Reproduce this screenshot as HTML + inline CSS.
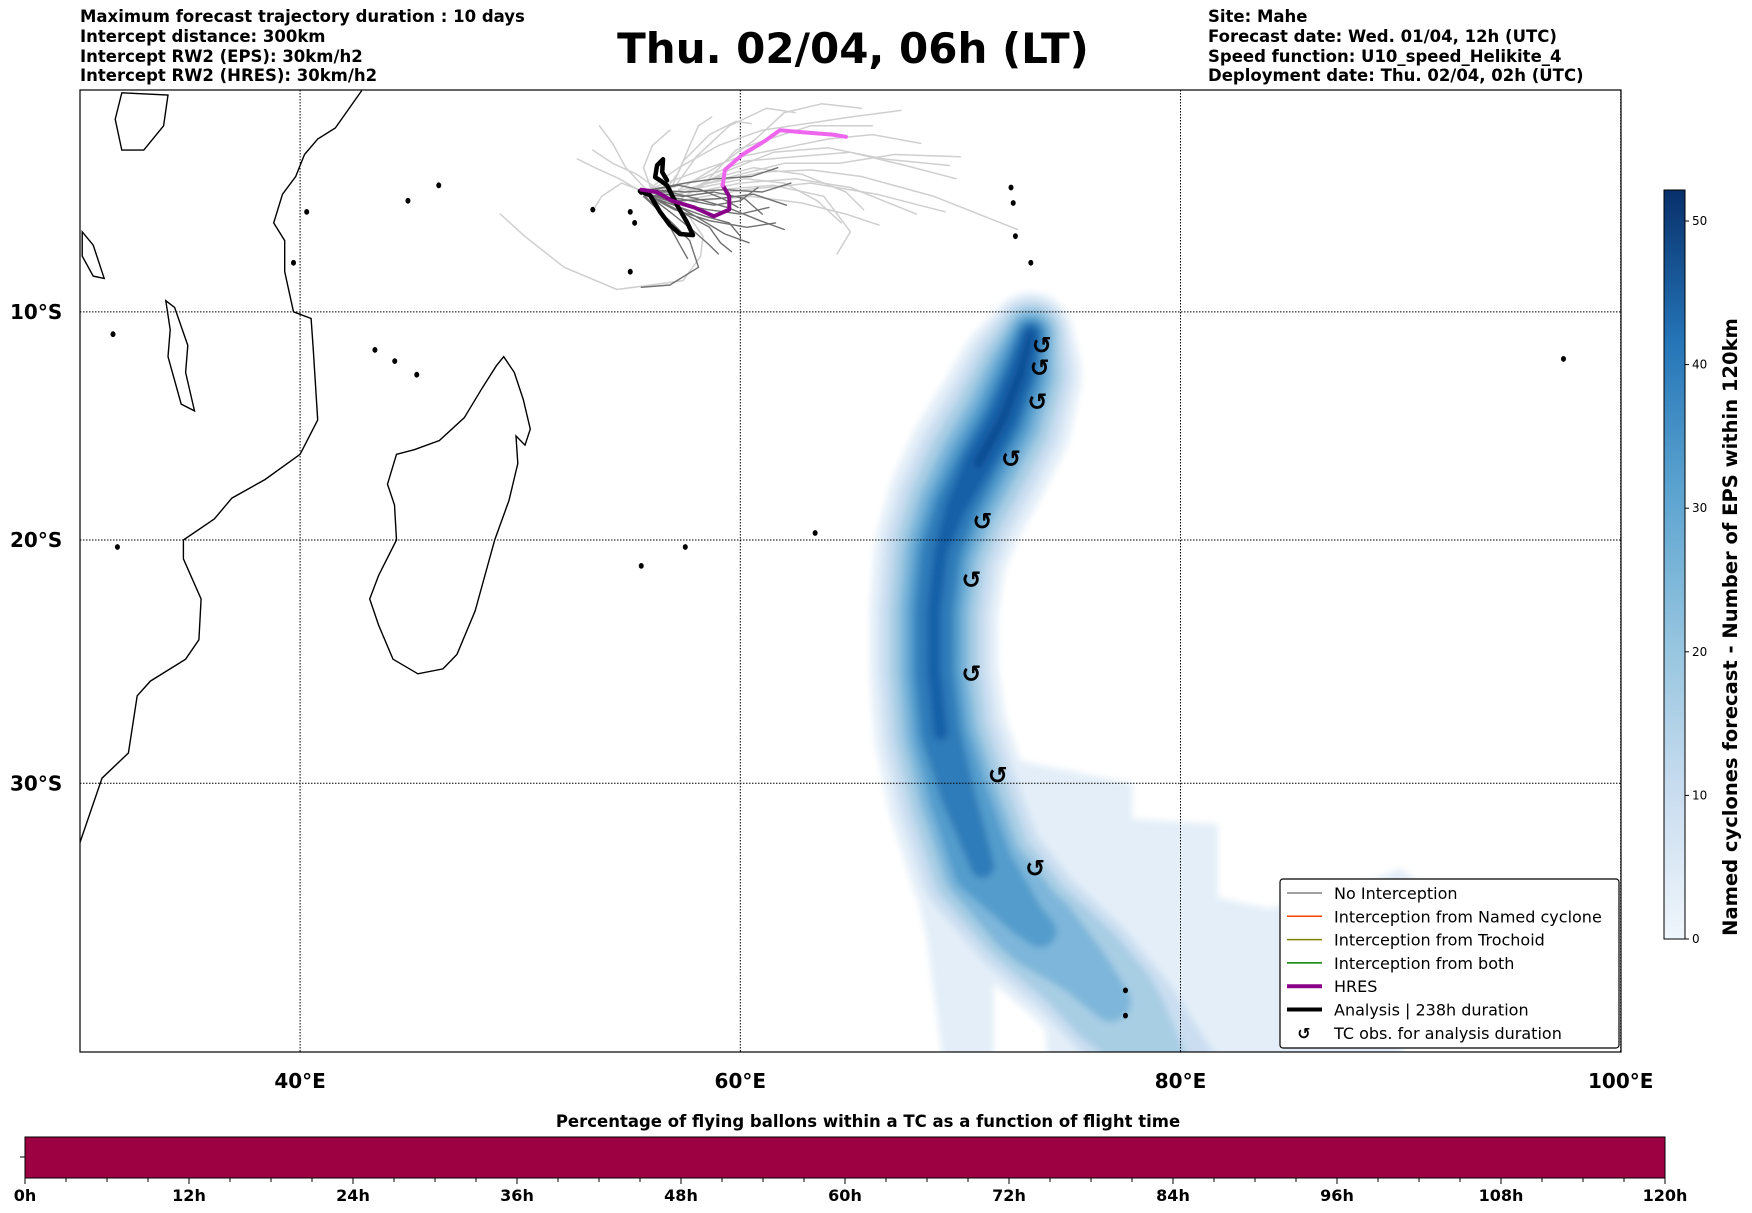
<!DOCTYPE html>
<html><head><meta charset="utf-8">
<style>
html,body{margin:0;padding:0;background:#fff;}
svg{display:block;font-family:"DejaVu Sans","Liberation Sans",sans-serif;}
.b{font-weight:bold;}
</style></head>
<body>
<svg id="chart" width="1752" height="1213" viewBox="0 0 1752 1213">
<defs>
<filter id="blur" x="-20%" y="-20%" width="140%" height="140%"><feGaussianBlur stdDeviation="3.5"/></filter>
<linearGradient id="cbgrad" x1="0" y1="1" x2="0" y2="0">
<stop offset="0" stop-color="#f0f6fc"/><stop offset="0.2" stop-color="#c8dcef"/><stop offset="0.4" stop-color="#94c4df"/>
<stop offset="0.6" stop-color="#5ba3d0"/><stop offset="0.8" stop-color="#2474b7"/><stop offset="1" stop-color="#08306b"/>
</linearGradient>
<clipPath id="mapclip"><rect x="80" y="90" width="1541" height="962"/></clipPath>
</defs>
<g class="b" font-size="16.5">
<text x="80" y="22">Maximum forecast trajectory duration : 10 days</text>
<text x="80" y="42">Intercept distance: 300km</text>
<text x="80" y="62">Intercept RW2 (EPS):  30km/h2</text>
<text x="80" y="81">Intercept RW2 (HRES): 30km/h2</text>
</g>
<text x="853" y="63" text-anchor="middle" class="b" font-size="42">Thu. 02/04, 06h (LT)</text>
<g class="b" font-size="16.5">
<text x="1208" y="22">Site: Mahe</text>
<text x="1208" y="42">Forecast date: Wed. 01/04, 12h (UTC)</text>
<text x="1208" y="62">Speed function: U10_speed_Helikite_4</text>
<text x="1208" y="81">Deployment date: Thu. 02/04, 02h (UTC)</text>
</g>
<g id="map" clip-path="url(#mapclip)"></g>
<g id="overlay"></g>
<rect x="80" y="90" width="1541" height="962" fill="none" stroke="#000" stroke-width="1.2"/>
<g id="legend"></g>
<g id="colorbar"></g>
<text transform="translate(1737,627) rotate(-90)" text-anchor="middle" class="b" font-size="19.5">Named cyclones forecast - Number of EPS within 120km</text>
<text x="868" y="1127" text-anchor="middle" class="b" font-size="16.5">Percentage of flying ballons within a TC as a function of flight time</text>
<g id="timebar"></g>
</svg>
<script>
const NS="http://www.w3.org/2000/svg";
// ---- data ----
const lonTicks=[40,60,80,100];
const latTicks=[10,20,30];
const cbTicks=[0,10,20,30,40,50];
const timeTicks=[0,12,24,36,48,60,72,84,96,108,120];
const timePercent=[100];
const tcObsLon=[73.7,73.6,73.5,72.3,71.0,70.5,70.5,71.7,73.4];
const tcObsLat=[11.5,12.5,14.0,16.5,19.2,21.7,25.6,29.7,33.3];
const densityLon=[73.2,72.7,71.9,70.8,69.8,69.1,68.8,68.8,69.1,69.9,71.0,73.0,75.5,77.5,79.0,80.5];
const densityLat=[11.0,12.8,14.8,16.7,18.6,20.5,23,25.5,28,30.5,33.2,35.2,37,38.8,40.5,42];
const densityWidth=[3.8,5.6,6.3,6.5,6.3,6.0,5.8,5.8,6.0,6.4,6.6,6.4,6.2,6.0,5.8,5.5];
const densityPeak=[7,7,7,7,6.5,6,6,6,6,5.6,5,4.2,3.4,2.8,2.3,2];
const lightAreaLon=[66.8,68.5,69.3,71.5,71.5,73.7,74.0,89.5,92,92,90,88,84,81.7,81.7,77.8,77.8,72];
const lightAreaLat=[29.5,36,40.8,40.8,37.5,37,40.8,40.8,37,34.5,33.3,34,34.8,34.4,31.6,31.4,30,29];
const analysisLon=[55.44,55.9,56.35,56.8,57.26,57.85,57.58,57.13,56.67,56.35,56.13,56.22,56.49,56.45,56.67];
const analysisLat=[4.56,4.75,5.5,6.1,6.5,6.55,5.97,5.2,4.3,4.07,3.93,3.39,3.12,3.7,4.07];
const hresLon=[55.5,56.2,56.9,57.9,58.8,59.5,59.5,59.2,59.3,60.1,61.1,61.8,62.9,64.2,64.8];
const hresLat=[4.5,4.6,5.0,5.3,5.7,5.4,4.8,4.3,3.6,2.9,2.3,1.8,1.9,2.0,2.1];
const africaLon=[42.8,41.6,40.8,40.2,39.8,39.2,38.8,39.3,39.3,39.7,40.5,40.6,40.8,40.0,38.4,36.9,36.1,34.7,34.7,35.5,35.4,34.8,33.2,32.6,32.2,31.0,30.0];
const africaLat=[0,1.7,2.2,2.9,3.9,4.7,6.0,6.8,8.2,10.0,10.3,11.7,14.8,16.3,17.4,18.2,19.1,20.0,20.8,22.5,24.2,25.0,25.9,26.5,28.8,29.8,32.3];
const madaLon=[49.25,49.73,50.14,50.46,50.22,49.81,49.89,49.49,48.84,47.95,47.13,46.49,45.35,44.22,43.57,43.16,43.57,44.38,44.29,43.97,44.38,45.19,46.33,47.46,48.27,48.92,49.25];
const madaLat=[12.0,12.7,13.9,15.2,15.9,15.5,16.7,18.3,20.0,23.0,24.8,25.4,25.6,25.0,23.6,22.5,21.5,20.0,18.5,17.6,16.3,16.1,15.7,14.7,13.4,12.4,12.0];
const malawiLon=[33.9,34.3,34.9,34.8,35.2,34.6,34.0,34.1,33.9];
const malawiLat=[9.5,9.8,11.5,12.7,14.4,14.1,12.0,10.8,9.5];
const tangLon=[30.1,30.6,31.1,30.6,30.1];
const tangLat=[6.4,7.0,8.5,8.4,7.5];
const victLon=[31.9,34.0,33.8,32.9,31.9,31.6,31.9];
const victLat=[0.1,0.2,1.6,2.7,2.7,1.3,0.1];
const islandLon=[55.5,57.5,55.5,43.4,44.3,45.3,63.4,55.0,55.2,72.4,72.5,73.2,77.5,77.5,97.4,53.3,55.0,72.3,40.3,44.9,46.3,39.7,31.7,31.5];
const islandLat=[4.6,20.3,21.1,11.7,12.2,12.8,19.7,5.5,6.0,5.1,6.6,7.8,37.8,38.7,12.1,5.4,8.2,4.4,5.5,5.0,4.3,7.8,20.3,11.0];
// gray trajectories (lon/lat pairs)
const lightTracks=[
[[55.8,4.5],[57.2,3.5],[59,2.5],[61,1.8],[63,1.5],[65,1.2],[67.3,0.9]],
[[55.8,4.5],[57.7,3.8],[60,3],[62,2.6],[64,2.2],[66,2.0],[68.2,2.4]],
[[55.8,4.7],[58.2,4],[60.2,3.2],[62.5,3],[65,2.8],[67.5,3.4],[69.8,4.0]],
[[56.2,4.8],[58.6,4.2],[61,3.7],[63.2,3.6],[65.5,3.9],[68.8,4.8],[72.6,6.3]],
[[56.2,5],[58.2,4.4],[60.2,4],[62,4.2],[63.5,5.0],[64.6,6.0]],
[[56.2,5],[54.5,4],[53.4,3.5],[52.6,3.1]],
[[56.2,5],[54.8,3.5],[54.2,2.4],[53.6,1.6]],
[[57.6,5.6],[58.3,6.6],[58.2,7.5],[57.4,8.6],[54.4,9.0],[52,8.0],[50.2,6.6],[49.1,5.6]],
[[56.4,4.8],[57.2,3.7],[57.7,2.5],[58.1,1.6],[58.7,1.2]],
[[57.2,4.5],[59.2,3.3],[60.7,2.2],[62,1.0],[63.7,0.6],[65.5,0.8]],
[[57.2,5],[60.2,4.5],[63.2,4.2],[66.2,4.7],[69.3,5.5]],
[[56.7,4.8],[55.3,3.8],[54.2,3.3],[53.3,2.7]],
[[57.5,4.6],[59.5,3.6],[61.5,2.8],[64,2.6],[66.5,3.1],[69.5,3.4]],
[[57.0,4.4],[58,3.0],[59.5,1.6],[61.2,0.8],[62.5,1.0]],
[[58.0,5.0],[60.5,4.8],[62.8,5.1],[64.8,5.6],[66.3,6.1]],
[[56.0,4.6],[55.6,3.5],[56.0,2.5],[56.8,1.8]],
[[58.5,4.2],[60,3.8],[62,3.3],[64.5,3.3],[67,2.9],[70,3.0]],
[[58,4.6],[60,4.2],[62.5,4.0],[65,4.4],[67,5.2],[68,5.6]],
[[56.8,4.6],[57.4,3.2],[58.6,2.0],[59.8,1.4],[60.5,1.5]],
[[57.3,4.9],[58.7,4.0],[60.6,3.5],[62.8,3.8],[64.8,4.6],[65.6,5.4]],
[[55.7,4.6],[54.6,4.2],[53.7,4.8],[53.4,5.3]],
[[58.2,4.4],[59.8,2.7],[61,2.3],[63.2,1.6],[66,1.6]],
[[59,4.5],[61.5,4.3],[63.8,4.8],[65,6.4],[64.4,7.4]]
];
const darkTracks=[
[[55.5,4.6],[57,5.1],[58.5,5.4],[60,5.6],[61.3,5.3]],
[[55.5,4.6],[57,5.4],[58.6,5.9],[60.3,6.2],[61.6,6.0]],
[[55.7,4.7],[57.3,5.0],[59,4.9],[60.6,4.7],[62.1,5.2]],
[[55.6,4.6],[56.8,5.5],[57.8,6.3],[58.6,7.0],[59.0,7.4]],
[[55.8,4.5],[57.5,4.6],[59.3,4.5],[61,4.6],[62.3,4.2]],
[[55.6,4.8],[56.9,6.0],[57.7,6.8],[58.1,8.0],[56.8,8.8],[55.5,8.9]],
[[56.0,4.6],[57.8,5.6],[59.3,6.5],[60.4,6.9]],
[[55.9,4.5],[57.5,4.2],[58.9,4.0],[60.5,3.9],[61.7,3.5]],
[[55.6,4.7],[57.2,4.9],[58.8,5.2],[60.0,5.0],[60.8,4.4]],
[[55.6,4.7],[57.0,5.2],[58.4,5.7],[59.5,6.0],[60.0,6.6]],
[[55.7,4.6],[57.4,4.8],[58.8,4.6],[60.2,4.9],[61.0,5.6]],
[[55.6,4.6],[56.8,4.6],[58.0,4.9],[59.4,5.3],[60.9,5.9],[62.0,6.3]],
[[55.8,4.7],[57.5,5.6],[58.6,6.2],[59.1,6.9],[59.6,7.3]],
[[56.0,4.5],[57.2,4.3],[58.2,4.5],[59.2,4.9],[59.9,5.3]],
[[55.6,4.7],[56.6,5.8],[57.2,6.9],[57.6,7.6]]
];
// ---- projection ----
const X0=80,LON0=30,PXD=22.01,K=1261,Y20=540;
const merc=l=>Math.log(Math.tan(Math.PI/4+l*Math.PI/360));
const M20=merc(20);
const xs=lon=>X0+(lon-LON0)*PXD;
const ys=lat=>Y20+K*(merc(lat)-M20);
function el(tag,attrs,parent){const e=document.createElementNS(NS,tag);for(const k in attrs)e.setAttribute(k,attrs[k]);parent.appendChild(e);return e;}
function ptsLL(lons,lats){return lons.map((v,i)=>xs(v).toFixed(1)+","+ys(lats[i]).toFixed(1)).join(" ");}
function ptsPairs(p){return p.map(q=>xs(q[0]).toFixed(1)+","+ys(q[1]).toFixed(1)).join(" ");}
const map=document.getElementById('map');
// density
const dens=el('g',{filter:'url(#blur)'},map);


const la=el('polygon',{points:ptsLL(lightAreaLon,lightAreaLat),fill:'#e3eef8'},dens);


const fr=[1,0.85,0.7,0.55,0.42,0.3,0.2,0.11];
const cols=['#e3eef8','#cbdef1','#a8cee4','#7db6da','#529ccc','#2f7bb9','#1561a8','#0b4a8f'];
fr.forEach((f,k)=>{
  const g=el('g',{fill:cols[k]},dens);
  
  
  for(let i=0;i<densityLon.length-1;i++){
    for(let s=0;s<12;s++){
      const t=s/12;
      const pk=densityPeak[i]*(1-t)+densityPeak[i+1]*t;
      if(pk<k-0.01) continue;
      const shrink=Math.min(1,0.55+0.45*(pk-k));
      const lon=densityLon[i]*(1-t)+densityLon[i+1]*t;
      const lat=densityLat[i]*(1-t)+densityLat[i+1]*t;
      const w=densityWidth[i]*(1-t)+densityWidth[i+1]*t;
      el('circle',{cx:xs(lon),cy:ys(lat),r:(f*shrink*w/2*PXD).toFixed(1)},g);
    }
  }
});
// grid
lonTicks.forEach(v=>{const l=el('line',{x1:xs(v),x2:xs(v),y1:90,y2:1052,stroke:'#000','stroke-width':1,'stroke-dasharray':'1.5,1.5'},map);

});
latTicks.forEach(v=>{const l=el('line',{x1:80,x2:1621,y1:ys(v),y2:ys(v),stroke:'#000','stroke-width':1,'stroke-dasharray':'1.5,1.5'},map);

});
// coastlines
const coast=el('g',{fill:'none',stroke:'#000','stroke-width':1.4},map);


const af=el('polyline',{points:ptsLL(africaLon,africaLat)},coast);


const md=el('polygon',{points:ptsLL(madaLon,madaLat)},coast);


[[malawiLon,malawiLat,'lake-malawi'],[tangLon,tangLat,'lake-tanganyika'],[victLon,victLat,'lake-victoria']].forEach(a=>{
 const p=el('polygon',{points:ptsLL(a[0],a[1])},coast);
 
 
});
islandLon.forEach((v,i)=>{const c=el('ellipse',{cx:xs(v),cy:ys(islandLat[i]),rx:1.8,ry:2.2,stroke:'#000','stroke-width':1.4,fill:'#000'},coast);

});
// trajectories
const tr=el('g',{fill:'none','stroke-linejoin':'round','stroke-linecap':'round'},map);


lightTracks.forEach(t=>{const p=el('polyline',{points:ptsPairs(t),stroke:'#cfcfcf','stroke-width':1.5},tr);

});
darkTracks.forEach(t=>{const p=el('polyline',{points:ptsPairs(t),stroke:'#707070','stroke-width':1.4},tr);

});
const an=el('polyline',{points:ptsLL(analysisLon,analysisLat),stroke:'#000','stroke-width':4.5},tr);


const h1=el('polyline',{points:ptsLL(hresLon.slice(0,8),hresLat.slice(0,8)),stroke:'#8b008b','stroke-width':4},tr);


const h2=el('polyline',{points:ptsLL(hresLon.slice(7),hresLat.slice(7)),stroke:'#ee66ee','stroke-width':4},tr);


// TC obs
tcObsLon.forEach((v,i)=>{const t=el('text',{x:xs(v),y:ys(tcObsLat[i])+8,'text-anchor':'middle','font-size':24,'font-weight':'bold','font-family':'DejaVu Sans'},map);
t.textContent='↺';

});
// axis labels
const ov=document.getElementById('overlay');
lonTicks.forEach(v=>{const t=el('text',{x:xs(v),y:1088,'text-anchor':'middle','font-size':20,'font-weight':'bold'},ov);
t.textContent=v+'°E';

});
latTicks.forEach(v=>{const t=el('text',{x:10,y:ys(v)+7,'font-size':20,'font-weight':'bold'},ov);
t.textContent=v+'°S';

});
// legend
const lg=document.getElementById('legend');
el('rect',{x:1280,y:879,width:339,height:169,rx:3,fill:'#fff',stroke:'#000','stroke-width':1.2},lg);
const items=[['No Interception','#808080',1.5],['Interception from Named cyclone','#ff4500',1.5],['Interception from Trochoid','#808000',1.5],['Interception from both','#008000',1.5],['HRES','#8b008b',4],['Analysis | 238h duration','#000',4],['TC obs. for analysis duration',null,0]];
items.forEach((it,i)=>{const y=893+i*23.3;
 const g=el('g',{},lg);
 
 
 if(it[1]) el('line',{x1:1287,x2:1322,y1:y,y2:y,stroke:it[1],'stroke-width':it[2]},g);
 else {const s=el('text',{x:1304,y:y+6,'text-anchor':'middle','font-size':16,'font-weight':'bold'},g);s.textContent='↺';}
 const t=el('text',{x:1334,y:y+6,'font-size':16},g);t.textContent=it[0];});
// colorbar
const cb=document.getElementById('colorbar');
const CB0=939,CBPX=718/50;
el('rect',{x:1664,y:190,width:21,height:749,fill:'url(#cbgrad)',stroke:'#000','stroke-width':1},cb);
cbTicks.forEach(v=>{const y=CB0-v*CBPX;
 el('line',{x1:1685,x2:1689,y1:y,y2:y,stroke:'#000'},cb);
 const t=el('text',{x:1692,y:y+4,'font-size':12},cb);t.textContent=v;
 
 });
// time bar
const tb=document.getElementById('timebar');
const TX0=25,TX1=1665,tx=h=>TX0+(TX1-TX0)*h/120;
const bar=el('rect',{x:TX0,y:1137,width:(TX1-TX0)*timePercent[0]/100,height:41,fill:'#9e0142',stroke:'#000','stroke-width':1},tb);


el('line',{x1:20,x2:25,y1:1157,y2:1157,stroke:'#000'},tb);
for(let h=0;h<=120;h+=3){el('line',{x1:tx(h),x2:tx(h),y1:1178,y2:h%12===0?1184:1182,stroke:'#000','stroke-width':1},tb);}
timeTicks.forEach(h=>{const t=el('text',{x:tx(h),y:1201,'text-anchor':'middle','font-size':16,'font-weight':'bold'},tb);t.textContent=h+'h';

});
</script>
</body></html>
